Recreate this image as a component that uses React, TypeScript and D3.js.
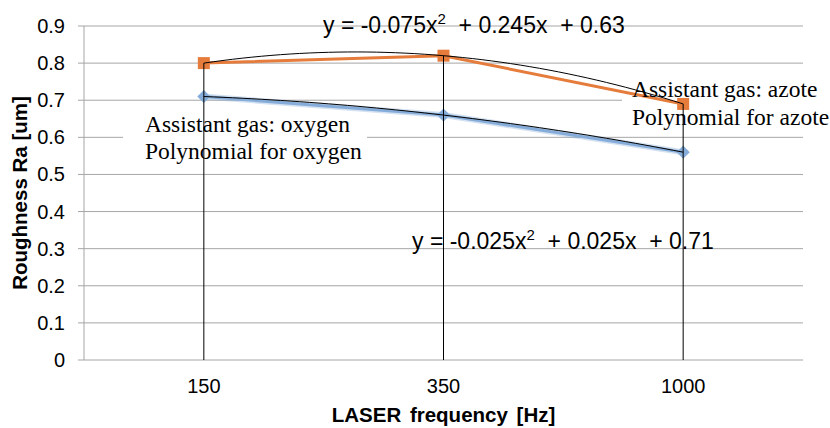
import * as d3 from "d3";

// LASER frequency categories and roughness values
const CATEGORIES = ["150", "350", "1000"];
const AZOTE = [0.8, 0.82, 0.69];
const OXYGEN = [0.71, 0.66, 0.56];
const Y_TICKS = [0, 0.1, 0.2, 0.3, 0.4, 0.5, 0.6, 0.7, 0.8, 0.9];
const Y_TICK_LABELS = ["0", "0.1", "0.2", "0.3", "0.4", "0.5", "0.6", "0.7", "0.8", "0.9"];
// polynomial trendline coefficients [a, b, c] for y = a*x^2 + b*x + c
const AZOTE_POLY = [-0.075, 0.245, 0.63];
const OXYGEN_POLY = [-0.025, 0.025, 0.71];

const W = 830;
const H = 428;
const margin = { top: 26, right: 27, bottom: 68, left: 84 };

const GRID = "#a6a6a6";
const ORANGE = "#e57c3c";
const BLUE = "#86add9";
const SANS = "'Liberation Sans', Arial, sans-serif";
const SERIF = "'Liberation Serif', 'Times New Roman', serif";

export default function App() {
  const x = d3
    .scaleBand<string>()
    .domain(CATEGORIES)
    .range([margin.left, W - margin.right]);
  const cx = (i: number) => (x(CATEGORIES[i]) ?? 0) + x.bandwidth() / 2;
  const y = d3
    .scaleLinear()
    .domain([0, 0.9])
    .range([H - margin.bottom, margin.top]);

  // trendline x is the category index 1..3
  const tx = d3.scaleLinear().domain([1, 3]).range([cx(0), cx(2)]);
  const trend = (p: number[]) =>
    d3
      .line<number>()
      .x((t) => tx(t))
      .y((t) => y(p[0] * t * t + p[1] * t + p[2]))(d3.range(1, 3.0001, 0.04));

  const seriesLine = d3
    .line<number>()
    .x((_, i) => cx(i))
    .y((d) => y(d));

  const diamond = d3.symbol().type(d3.symbolDiamond2).size(110)();

  return (
    <svg
      width={W}
      height={H}
      style={{ position: "absolute", left: 0, top: 0, background: "#fff" }}
    >
      {/* gridlines and y ticks */}
      {Y_TICKS.map((t, i) => (
        <g key={i}>
          <line
            x1={margin.left - 6}
            x2={W - margin.right}
            y1={y(t)}
            y2={y(t)}
            stroke={GRID}
            strokeWidth={1}
          />
          <text
            x={65}
            y={y(t)}
            dy="0.35em"
            textAnchor="end"
            fontFamily={SANS}
            fontSize={20}
            fill="#000"
          >
            {Y_TICK_LABELS[i]}
          </text>
        </g>
      ))}
      <line
        x1={margin.left}
        x2={margin.left}
        y1={y(0.9)}
        y2={y(0)}
        stroke={GRID}
      />

      {/* boxes behind the labels */}
      <rect x={622} y={74} width={208} height={58} fill="#fff" />
      <rect x={123} y={104} width={244} height={64} fill="#fff" />

      {/* series */}
      <path d={seriesLine(OXYGEN) ?? ""} fill="none" stroke={BLUE} strokeOpacity={0.35} strokeWidth={6} />
      <path d={seriesLine(OXYGEN) ?? ""} fill="none" stroke={BLUE} strokeWidth={3} />
      {OXYGEN.map((v, i) => (
        <path key={i} d={diamond ?? ""} transform={`translate(${cx(i)},${y(v)})`} fill={BLUE} />
      ))}
      <path d={seriesLine(AZOTE) ?? ""} fill="none" stroke={ORANGE} strokeWidth={3} />
      {AZOTE.map((v, i) => (
        <rect key={i} x={cx(i) - 6} y={y(v) - 6} width={12} height={12} fill={ORANGE} />
      ))}

      {/* drop lines */}
      {CATEGORIES.map((c, i) => (
        <line
          key={c}
          x1={cx(i)}
          x2={cx(i)}
          y1={y(Math.max(AZOTE[i], OXYGEN[i]))}
          y2={y(0)}
          stroke="#000"
          strokeWidth={1}
        />
      ))}

      {/* trendlines */}
      <path d={trend(AZOTE_POLY) ?? ""} fill="none" stroke="#000" strokeWidth={1} />
      <path d={trend(OXYGEN_POLY) ?? ""} fill="none" stroke="#000" strokeWidth={1} />

      {/* x tick labels */}
      {CATEGORIES.map((c, i) => (
        <text
          key={c}
          x={cx(i)}
          y={393}
          textAnchor="middle"
          fontFamily={SANS}
          fontSize={20}
        >
          {c}
        </text>
      ))}

      {/* equations */}
      <text x={323} y={33} fontFamily={SANS} fontSize={23} xmlSpace="preserve">
        y = -0.075x<tspan fontSize={15} dy={-9}>2</tspan>
        <tspan dy={9}>{"  + 0.245x  + 0.63"}</tspan>
      </text>
      <text x={412} y={249} fontFamily={SANS} fontSize={23} xmlSpace="preserve">
        y = -0.025x<tspan fontSize={15} dy={-9}>2</tspan>
        <tspan dy={9}>{"  + 0.025x  + 0.71"}</tspan>
      </text>

      {/* labels */}
      <text fontFamily={SERIF} fontSize={23.5}>
        <tspan x={145} y={132}>Assistant gas: oxygen</tspan>
        <tspan x={145} y={159}>Polynomial for oxygen</tspan>
      </text>
      <text fontFamily={SERIF} fontSize={23.5}>
        <tspan x={632} y={97}>Assistant gas: azote</tspan>
        <tspan x={632} y={125}>Polynomial for azote</tspan>
      </text>

      {/* axis titles */}
      <text
        x={(margin.left + W - margin.right) / 2}
        y={422}
        textAnchor="middle"
        fontFamily={SANS}
        fontWeight="bold"
        fontSize={20.5}
        wordSpacing={3}
      >
        LASER frequency [Hz]
      </text>
      <text
        transform={`translate(27,${(y(0) + y(0.9)) / 2}) rotate(-90)`}
        textAnchor="middle"
        fontFamily={SANS}
        fontWeight="bold"
        fontSize={20.5}
      >
        Roughness Ra [um]
      </text>
    </svg>
  );
}
